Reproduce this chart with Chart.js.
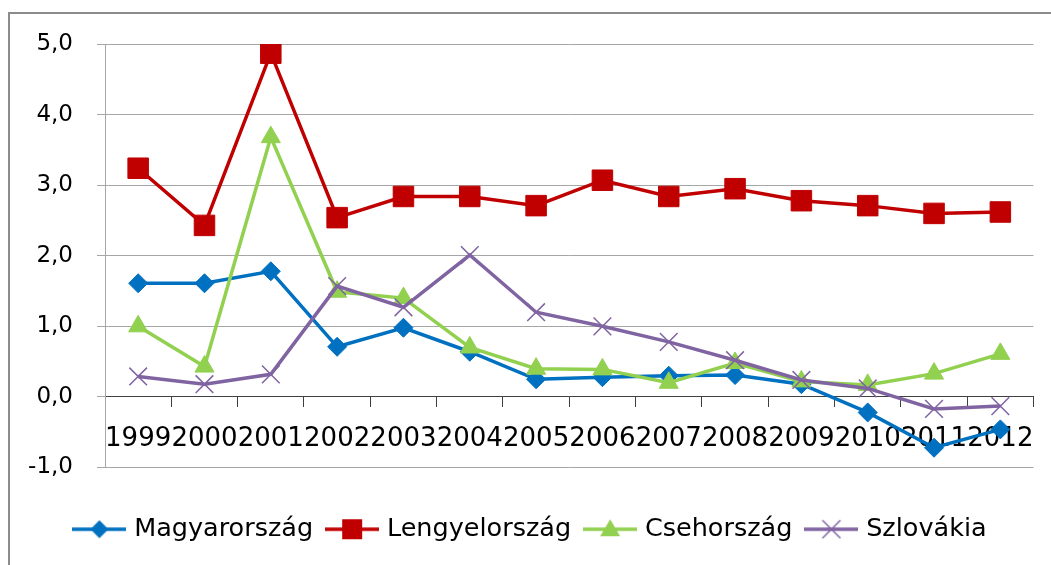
<!DOCTYPE html>
<html>
<head>
<meta charset="utf-8">
<script src="https://cdn.jsdelivr.net/npm/chart.js@4"></script>
<style>
  html, body { margin: 0; padding: 0; background: #fff; }
  canvas { display: block; }
</style>
</head>
<body>
<canvas id="myChart" width="1051" height="565"></canvas>
<script>
var years = ['1999', '2000', '2001', '2002', '2003', '2004', '2005', '2006', '2007', '2008', '2009', '2010', '2011', '2012'];
var magyar = [1.61, 1.61, 1.78, 0.71, 0.98, 0.64, 0.25, 0.28, 0.30, 0.31, 0.18, -0.22, -0.72, -0.46];
var lengyel = [3.24, 2.43, 4.87, 2.54, 2.84, 2.84, 2.71, 3.07, 2.84, 2.95, 2.78, 2.71, 2.60, 2.62];
var cseh = [1.00, 0.43, 3.68, 1.49, 1.40, 0.70, 0.40, 0.39, 0.20, 0.48, 0.22, 0.17, 0.33, 0.61];
var szlovak = [0.29, 0.18, 0.32, 1.57, 1.27, 2.01, 1.20, 1.00, 0.78, 0.52, 0.24, 0.12, -0.17, -0.13];
var yTicks = [-1, 0, 1, 2, 3, 4, 5];

Chart.defaults.font.family = "'DejaVu Sans', sans-serif";
Chart.defaults.color = '#000';

// little legend pictures: line with the marker in the middle (Excel style)
function legendIcon(color, shape) {
    var c = document.createElement('canvas');
    c.width = 54; c.height = 26;
    var g = c.getContext('2d');
    var cx = 27, cy = 13;
    g.strokeStyle = color; g.fillStyle = color; g.lineWidth = 3.5;
    g.beginPath(); g.moveTo(0, cy); g.lineTo(54, cy); g.stroke();
    g.beginPath();
    if (shape == 'diamond') {
        g.moveTo(cx, cy - 9); g.lineTo(cx + 9, cy); g.lineTo(cx, cy + 9); g.lineTo(cx - 9, cy); g.closePath(); g.fill();
    } else if (shape == 'square') {
        g.rect(cx - 10, cy - 10, 20, 20); g.fill();
    } else if (shape == 'triangle') {
        g.moveTo(cx, cy - 10); g.lineTo(cx + 10, cy + 7); g.lineTo(cx - 10, cy + 7); g.closePath(); g.fill();
    } else {
        g.lineWidth = 1.5;
        g.moveTo(cx - 9, cy - 9); g.lineTo(cx + 9, cy + 9);
        g.moveTo(cx + 9, cy - 9); g.lineTo(cx - 9, cy + 9); g.stroke();
    }
    return c;
}

var hu = {
    label: 'Magyarország',
    data: magyar,
    borderColor: '#0070C0',
    backgroundColor: '#0070C0',
    pointStyle: 'rectRot',
    pointRadius: 9.5,
    order: 4,
    icon: legendIcon('#0070C0', 'diamond')
};
var pl = {
    label: 'Lengyelország',
    data: lengyel,
    borderColor: '#C00000',
    backgroundColor: '#C00000',
    pointStyle: 'rect',
    pointRadius: 14.5,
    order: 3,
    icon: legendIcon('#C00000', 'square')
};
var cz = {
    label: 'Csehország',
    data: cseh,
    borderColor: '#92D050',
    backgroundColor: '#92D050',
    pointStyle: 'triangle',
    pointRadius: 11,
    order: 2,
    icon: legendIcon('#92D050', 'triangle')
};
var sk = {
    label: 'Szlovákia',
    data: szlovak,
    borderColor: '#8064A2',
    backgroundColor: '#8064A2',
    pointStyle: 'crossRot',
    pointRadius: 12.5,
    pointBorderWidth: 1.5,
    order: 1,
    icon: legendIcon('#8064A2', 'cross')
};

var frame = {
    id: 'frame',
    beforeDraw: function (chart) {
        var c = chart.ctx;
        c.save();
        c.fillStyle = '#fff';
        c.fillRect(0, 0, chart.width, chart.height);
        c.strokeStyle = '#8c8c8c';
        c.lineWidth = 2;
        c.strokeRect(9, 13, chart.width + 10, chart.height + 10);
        c.restore();
    }
};

var ctx = document.getElementById('myChart').getContext('2d');
var myChart = new Chart(ctx, {
    type: 'line',
    data: {
        labels: years,
        datasets: [hu, pl, cz, sk]
    },
    plugins: [frame],
    options: {
        responsive: false,
        animation: false,
        layout: { padding: { left: 28, right: 15, top: 44, bottom: 13 } },
        elements: {
            line: { borderWidth: 3.5, tension: 0 },
            point: { borderWidth: 1 }
        },
        scales: {
            x: {
                position: { y: 0 },
                offset: true,
                grid: { offset: true, drawOnChartArea: false, drawTicks: true, tickLength: 10, color: '#404040' },
                border: { display: true, color: '#404040', width: 1 },
                ticks: { autoSkip: false, maxRotation: 0, padding: 17, font: { size: 26 } }
            },
            y: {
                min: -1,
                max: 5,
                afterFit: function (scale) { scale.width = 77; },
                afterBuildTicks: function (scale) {
                    scale.ticks = yTicks.map(function (v) { return { value: v }; });
                },
                grid: { color: '#a6a6a6', tickLength: 8 },
                border: { display: true, color: '#a6a6a6' },
                ticks: {
                    padding: 24,
                    font: { size: 23 },
                    callback: function (v) { return v.toFixed(1).replace('.', ','); }
                }
            }
        },
        plugins: {
            tooltip: { enabled: false },
            legend: {
                position: 'bottom',
                title: { display: true, text: ' ', padding: 10, font: { size: 10 } },
                labels: {
                    usePointStyle: true,
                    pointStyleWidth: 44,
                    padding: 17,
                    font: { size: 25.5 },
                    generateLabels: function (chart) {
                        return chart.data.datasets.map(function (ds, i) {
                            return {
                                text: ds.label,
                                pointStyle: ds.icon,
                                fillStyle: ds.backgroundColor,
                                strokeStyle: ds.borderColor,
                                lineWidth: 0,
                                hidden: false,
                                datasetIndex: i
                            };
                        });
                    }
                }
            }
        }
    }
});
</script>
</body>
</html>
